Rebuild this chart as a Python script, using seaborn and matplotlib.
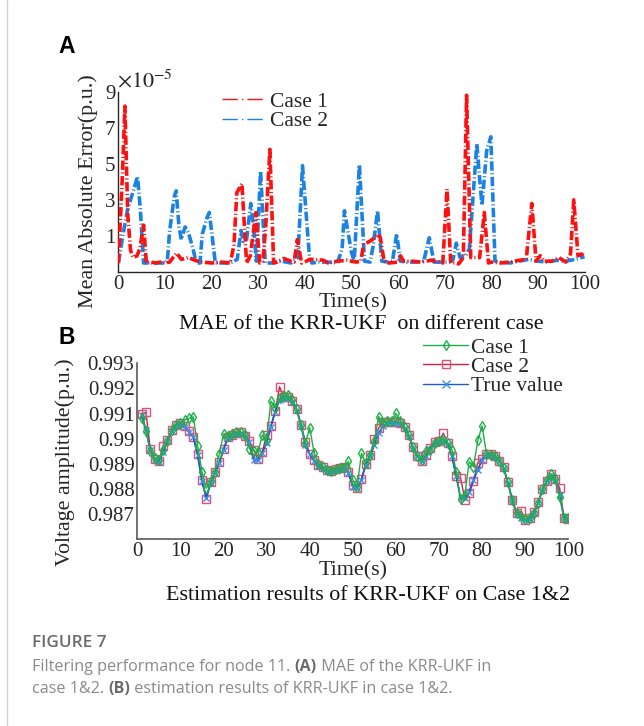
import numpy as np
import pandas as pd
import seaborn as sns
import matplotlib
matplotlib.use("Agg")
import matplotlib.pyplot as plt
from matplotlib.lines import Line2D

# ---------------- data: panel A (MAE, units of 1e-5) ----------------
t_case1 = [0, 0.8, 1.4, 2.0, 2.6, 3.2, 4.0, 4.6, 5.4, 6.0, 7, 8, 9, 10, 11, 12, 12.5, 13.5, 15, 16,
           17, 18, 20, 22, 24, 24.8, 25.4, 26.5, 27.5, 28.3, 29.5, 30.3, 31, 31.6, 32.5, 33.3, 34, 35.5,
           37, 37.7, 38.4, 39.3, 40, 41, 42, 44, 45, 47, 49, 50, 51, 52, 52.6, 54.5, 55.5, 56.2, 57, 58,
           60, 60.5, 61.2, 63, 65, 67, 69, 69.6, 70.5, 71.3, 72, 73, 74, 74.7, 75.6, 76.5, 77.5, 78.5,
           79.4, 80, 82, 84, 86, 87.5, 88.7, 89.6, 90.5, 91.3, 93, 94.5, 96, 97, 97.7, 98.6, 99.4, 100]
mae_case1 = [-0.5, 4.0, 8.2, 2.2, 0.2, -0.2, -0.1, 0.3, 1.6, -0.5, -0.45, -0.5, -0.45, -0.5, -0.45,
             -0.1, 0.05, -0.3, -0.2, -0.3, -0.4, -0.45, -0.5, -0.45, -0.5, 0.5, 3.4, 3.9, -0.5, -0.1,
             2.3, -0.5, -0.4, 1.5, 5.8, -0.5, -0.45, -0.25, -0.4, -0.45, 0.8, -0.5, -0.45, -0.3, -0.3,
             -0.35, -0.5, -0.4, -0.35, -0.4, -0.45, -0.4, 0.5, 0.8, 1.1, 0.9, -0.4, -0.5, -0.45, -0.1,
             -0.4, -0.4, -0.45, -0.35, -0.45, -0.5, 3.6, -0.5, -0.5, -0.55, -0.2, 8.8, -0.2, -0.2,
             -0.2, 2.3, -0.5, -0.45, -0.5, -0.45, -0.35, -0.3, 2.8, -0.4, -0.1, -0.4, -0.4, -0.2,
             -0.45, 0.0, 3.0, -0.1, 0.0, -0.2]

t_case2 = [0, 1, 2, 3.2, 4.1, 4.7, 5.4, 6, 8, 10, 10.5, 11, 12, 12.4, 13, 13.5, 14.3, 15, 16, 16.7,
           17.5, 18, 19, 19.5, 20.2, 20.8, 22, 24, 25.5, 26.3, 26.8, 27.5, 28.4, 29.0, 29.6, 30.5,
           31.5, 33, 35, 37, 38.5, 39.5, 40.2, 41, 41.5, 43, 45, 47, 48, 48.5, 49.2, 50, 50.6, 51.7,
           52.8, 54, 54.7, 55.6, 56.5, 58, 58.8, 59.7, 60.5, 62, 64, 65.5, 66.7, 67.7, 69, 71, 71.8,
           72.5, 73.3, 74.5, 75.3, 75.9, 76.9, 77.4, 78.0, 79.0, 79.9, 80.8, 82, 84, 86, 88, 90, 92,
           94, 96, 98, 100]
mae_case2 = [-0.5, 1.1, 2.5, 3.5, 4.3, 2.5, -0.5, -0.5, -0.5, -0.5, -0.4, 1.3, 3.2, 3.5, 1.5, 0.8,
             1.5, 1.2, 0.3, -0.5, -0.5, 1.1, 2.0, 2.3, 0.8, -0.5, -0.5, -0.5, -0.3, 1.3, 0.7, 0.8,
             2.8, 1.5, -0.4, 4.6, -0.5, -0.5, -0.4, -0.5, -0.2, 4.9, 2.5, -0.2, -0.5, -0.45, -0.45,
             -0.5, 0.3, 2.4, 1.3, 0.1, -0.4, 4.95, -0.4, -0.45, 0.5, 2.4, -0.4, -0.45, -0.4, 1.1,
             -0.4, -0.45, -0.45, -0.4, 0.9, -0.45, -0.45, -0.45, -0.3, 0.6, -0.2, -0.1, 0.3, 2.5,
             6.1, 4.5, 2.7, 5.7, 6.5, -0.4, -0.45, -0.5, -0.4, -0.3, -0.4, -0.45, -0.35, -0.4, -0.3,
             -0.15]

# ---------------- data: panel B (voltage amplitude) ----------------
t_b = list(range(1, 101))
volt_true = [0.99095, 0.99035, 0.98956, 0.98920, 0.98909, 0.98949, 0.98989, 0.99031, 0.99052, 0.99059,
             0.99048, 0.99026, 0.99005, 0.98936, 0.98830, 0.98766, 0.98823, 0.98863, 0.98903, 0.98956,
             0.99002, 0.99013, 0.99020, 0.99022, 0.99009, 0.98986, 0.98916, 0.98916, 0.98945, 0.98982,
             0.99048, 0.99108, 0.99154, 0.99163, 0.99163, 0.99148, 0.99114, 0.99052, 0.98975, 0.98938,
             0.98912, 0.98893, 0.98883, 0.98873, 0.98869, 0.98876, 0.98880, 0.98883, 0.98863, 0.98810,
             0.98804, 0.98837, 0.98896, 0.98930, 0.98976, 0.99022, 0.99051, 0.99061, 0.99064, 0.99064,
             0.99059, 0.99042, 0.99012, 0.98963, 0.98930, 0.98910, 0.98932, 0.98959, 0.98983, 0.98987,
             0.98993, 0.98980, 0.98930, 0.98850, 0.98764, 0.98764, 0.98790, 0.98837, 0.98876, 0.98916,
             0.98935, 0.98935, 0.98929, 0.98910, 0.98883, 0.98823, 0.98755, 0.98702, 0.98684, 0.98675,
             0.98680, 0.98704, 0.98744, 0.98797, 0.98830, 0.98856, 0.98837, 0.98777, 0.98684, 0.98680]
volt_case2 = [0.99099, 0.99105, 0.98960, 0.98920, 0.98912, 0.98973, 0.98995, 0.99035, 0.99055, 0.99062,
              0.99052, 0.99030, 0.99008, 0.98940, 0.98834, 0.98761, 0.98826, 0.98866, 0.98906, 0.98960,
              0.99005, 0.99016, 0.99023, 0.99025, 0.99012, 0.98992, 0.98956, 0.98918, 0.98948, 0.99015,
              0.99050, 0.99111, 0.99207, 0.99166, 0.99166, 0.99151, 0.99117, 0.99055, 0.98986, 0.98941,
              0.98915, 0.98896, 0.98886, 0.98876, 0.98872, 0.98879, 0.98883, 0.98886, 0.98866, 0.98817,
              0.98806, 0.98840, 0.98899, 0.98936, 0.98999, 0.99042, 0.99068, 0.99066, 0.99067, 0.99067,
              0.99062, 0.99045, 0.99015, 0.98966, 0.98933, 0.98912, 0.98935, 0.98962, 0.98986, 0.98990,
              0.99022, 0.98983, 0.98933, 0.98853, 0.98844, 0.98757, 0.98783, 0.98830, 0.98905, 0.98918,
              0.98938, 0.98938, 0.98932, 0.98913, 0.98886, 0.98826, 0.98758, 0.98705, 0.98711, 0.98678,
              0.98683, 0.98707, 0.98747, 0.98800, 0.98833, 0.98859, 0.98840, 0.98803, 0.98684, 0.98680]
volt_case1 = [0.99084, 0.99031, 0.98953, 0.98922, 0.98916, 0.98956, 0.98991, 0.99035, 0.99055, 0.99064,
              0.99075, 0.99081, 0.99087, 0.98973, 0.98869, 0.98803, 0.98830, 0.98869, 0.98938, 0.99018,
              0.99011, 0.99018, 0.99026, 0.99028, 0.99013, 0.98960, 0.98952, 0.98946, 0.99015, 0.98995,
              0.99150, 0.99124, 0.99161, 0.99171, 0.99174, 0.99154, 0.99118, 0.99055, 0.98982, 0.99044,
              0.98945, 0.98899, 0.98887, 0.98876, 0.98872, 0.98879, 0.98883, 0.98885, 0.98910, 0.98836,
              0.98807, 0.98942, 0.98903, 0.98936, 0.98989, 0.99088, 0.99061, 0.99071, 0.99071, 0.99101,
              0.99072, 0.99048, 0.99016, 0.98966, 0.98932, 0.98916, 0.98953, 0.98956, 0.98985, 0.98989,
              0.98998, 0.98985, 0.98956, 0.98869, 0.98759, 0.98777, 0.98909, 0.98889, 0.98993, 0.99051,
              0.98940, 0.98936, 0.98932, 0.98913, 0.98883, 0.98826, 0.98757, 0.98704, 0.98691, 0.98680,
              0.98684, 0.98706, 0.98746, 0.98799, 0.98834, 0.98860, 0.98839, 0.98770, 0.98684, 0.98684]

a_xticks = [0, 10, 20, 30, 40, 50, 60, 70, 80, 90, 100]
a_yticks = [1, 3, 5, 7, 9]
b_yticks = [0.987, 0.988, 0.989, 0.99, 0.991, 0.992, 0.993]
b_yticklabels = ["0.987", "0.988", "0.989", "0.99", "0.991", "0.992", "0.993"]

# ---------------- style ----------------
sns.set_theme(style="white")
plt.rcParams["font.family"] = ["Liberation Serif", "DejaVu Serif"]
plt.rcParams["mathtext.fontset"] = "stix"
plt.rcParams["xtick.direction"] = "in"
plt.rcParams["ytick.direction"] = "in"

W, H = 644, 726
fig = plt.figure(figsize=(W / 100, H / 100), dpi=100)
fig.patch.set_facecolor("white")


def P(x, y):
    return x / W, 1 - y / H


FS = 15.5      # legend text
LFS = 15.8     # axis labels / titles
TFS = 15.0     # tick labels
RED = "#ff1010"
BLUE = "#1c82e2"
DASH = (0, (2.6, 0.7, 0.3, 0.7))
LEGDASH = (0, (11, 3, 1, 3))

# ---------------- panel A ----------------
axA = fig.add_axes([118.4 / W, 1 - 272 / H, 466.1 / W, 180.3 / H])
dfA1 = pd.DataFrame({"t": t_case1, "v": mae_case1})
dfA2 = pd.DataFrame({"t": t_case2, "v": mae_case2})
sns.lineplot(data=dfA2, x="t", y="v", ax=axA, color=BLUE, linewidth=2.6,
             linestyle=DASH, errorbar=None, estimator=None, zorder=2)
sns.lineplot(data=dfA1, x="t", y="v", ax=axA, color=RED, linewidth=2.6,
             linestyle=DASH, errorbar=None, estimator=None, zorder=3)
for ln in axA.lines:
    ln.set_linewidth(2.6)
    ln.set_linestyle(DASH)
    ln.set_dash_joinstyle("round")
axA.set_xlim(0, 100)
axA.set_ylim(-1, 9)
axA.set_xticks(a_xticks)
axA.set_xticklabels([str(v) for v in a_xticks])
axA.set_yticks(a_yticks)
axA.set_yticklabels([str(v) for v in a_yticks])
axA.set_xlabel("")
axA.set_ylabel("")
for s in ["top", "right"]:
    axA.spines[s].set_visible(False)
for s in ["left", "bottom"]:
    axA.spines[s].set_color("#262626")
    axA.spines[s].set_linewidth(1.0)
axA.tick_params(axis="both", labelsize=TFS, colors="#262626", length=4, width=0.9, pad=2)
handlesA = [Line2D([], [], color=RED, lw=1.0, linestyle=LEGDASH),
            Line2D([], [], color=BLUE, lw=1.0, linestyle=LEGDASH)]
legA = fig.legend(handlesA, ["Case 1", "Case 2"], loc="upper left",
                  bbox_to_anchor=P(222, 91.5), frameon=False, fontsize=FS,
                  handlelength=1.95, handletextpad=0.28, labelspacing=-0.02,
                  borderaxespad=0, borderpad=0)
fig.text(*P(117, 87), r"$\times10^{-5}$", fontsize=LFS, ha="left", va="baseline", color="#262626")
fig.text(*P(88, 191), "Mean Absolute Error(p.u.)", rotation=90, fontsize=LFS,
         ha="center", va="center", color="#262626")
fig.text(*P(353, 303), "Time(s)", fontsize=LFS, ha="center", va="center", color="#262626")
fig.text(*P(361, 324), "MAE of the KRR-UKF  on different case", fontsize=LFS,
         ha="center", va="center", color="#111111")

# ---------------- panel B ----------------
GREEN = "#1fb04a"
CRIMSON = "#cc1f45"
NAVY = "#1c5cc8"
axB = fig.add_axes([137.3 / W, 1 - 539.3 / H, 431 / W, 176 / H])
dfB = pd.DataFrame({"t": t_b, "true": volt_true, "c1": volt_case1, "c2": volt_case2})
sns.lineplot(data=dfB, x="t", y="c2", ax=axB, color=CRIMSON, linewidth=1.0,
             marker="s", markersize=6, markerfacecolor="none", markeredgecolor="#e0507a",
             markeredgewidth=1.0, errorbar=None, zorder=2)
sns.lineplot(data=dfB, x="t", y="true", ax=axB, color=NAVY, linewidth=1.3,
             marker="x", markersize=5, markeredgecolor="#3a90ea",
             markeredgewidth=1.0, errorbar=None, zorder=3)
sns.lineplot(data=dfB, x="t", y="c1", ax=axB, color=GREEN, linewidth=1.0,
             marker="d", markersize=4.8, markerfacecolor="none", markeredgecolor=GREEN,
             markeredgewidth=1.0, errorbar=None, zorder=4)
axB.set_xlim(0, 100)
axB.set_ylim(0.986, 0.993)
axB.set_xticks(a_xticks)
axB.set_xticklabels([str(v) for v in a_xticks])
axB.set_yticks(b_yticks)
axB.set_yticklabels(b_yticklabels)
axB.set_xlabel("")
axB.set_ylabel("")
for s in ["top", "right"]:
    axB.spines[s].set_visible(False)
for s in ["left", "bottom"]:
    axB.spines[s].set_color("#5a5a5a")
    axB.spines[s].set_linewidth(1.2)
axB.tick_params(axis="both", labelsize=TFS, colors="#444444", length=4, width=0.9, pad=2)
for lab in axB.get_xticklabels() + axB.get_yticklabels():
    lab.set_color("#262626")
handlesB = [Line2D([], [], color=GREEN, lw=1.0, marker="d", markersize=4.8,
                   markerfacecolor="none", markeredgecolor=GREEN),
            Line2D([], [], color=CRIMSON, lw=1.0, marker="s", markersize=6,
                   markerfacecolor="none", markeredgecolor="#e0507a"),
            Line2D([], [], color=NAVY, lw=1.0, marker="x", markersize=6,
                   markeredgecolor="#3a90ea")]
legB = fig.legend(handlesB, ["Case 1", "Case 2", "True value"], loc="upper left",
                  bbox_to_anchor=P(423, 337.5), frameon=False, fontsize=FS,
                  handlelength=2.1, handletextpad=0.12, labelspacing=-0.03,
                  borderaxespad=0, borderpad=0)
fig.text(*P(65, 462), "Voltage amplitude(p.u.)", rotation=90, fontsize=LFS,
         ha="center", va="center", color="#262626")
fig.text(*P(353, 571), "Time(s)", fontsize=LFS, ha="center", va="center", color="#262626")
fig.text(*P(368, 596), "Estimation results of KRR-UKF on Case 1&2", fontsize=LFS,
         ha="center", va="center", color="#111111")

# ---------------- panel letters & caption ----------------
fig.text(*P(66.5, 46.5), "A", fontsize=16.5, fontweight="bold", family="Liberation Sans",
         ha="center", va="center", color="black")
fig.text(*P(66.5, 337), "B", fontsize=16.5, fontweight="bold", family="Liberation Sans",
         ha="center", va="center", color="black")
fig.text(*P(32, 643), "FIGURE 7", fontsize=12.3, fontweight="semibold", family="Open Sans",
         ha="left", va="center", color="#6b6b6b")

fig.canvas.draw()
r = fig.canvas.get_renderer()


def place_runs(x0, y, runs):
    x = x0
    for txt, bold in runs:
        t = fig.text(*P(x, y), txt, ha="left", fontweight="bold" if bold else "normal",
                     color="#6b6b6b" if bold else "#8a8a8a",
                     fontsize=11.6, family="Open Sans", va="center")
        bb = t.get_window_extent(renderer=r)
        x += bb.width


place_runs(32, 667, [("Filtering performance for node 11. ", False), ("(A)", True),
                     (" MAE of the KRR-UKF in", False)])
place_runs(32, 689, [("case 1&2. ", False), ("(B)", True),
                     (" estimation results of KRR-UKF in case 1&2.", False)])

# left frame line
fig.add_artist(Line2D([7 / W, 7 / W], [0, 1], color="#d0d0d0", lw=1.0, transform=fig.transFigure))

fig.savefig("out.png", dpi=100, facecolor="white")
